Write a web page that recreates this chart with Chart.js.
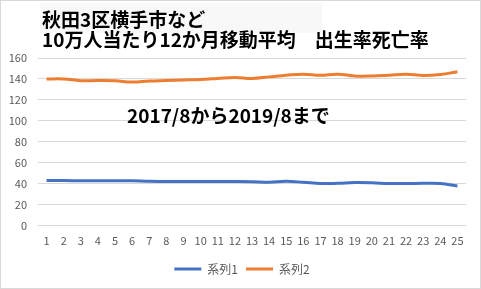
<!DOCTYPE html>
<html>
<head>
<meta charset="utf-8">
<script src="https://cdn.jsdelivr.net/npm/chart.js@4.4.0/dist/chart.umd.min.js"></script>
<style>
  html, body { margin: 0; padding: 0; background: #fff; }
</style>
</head>
<body>
<canvas id="grafico" width="481" height="289"></canvas>
<script>
// 秋田3区横手市など 出生率・死亡率（10万人当たり12か月移動平均）
const labels = ['1','2','3','4','5','6','7','8','9','10','11','12','13','14','15','16','17','18','19','20','21','22','23','24','25'];
const series1 = [43.1, 43.1, 43.0, 43.0, 43.0, 43.0, 42.4, 42.3, 42.3, 42.3, 42.3, 42.3, 42.1, 41.5, 42.4, 41.5, 40.3, 40.5, 41.2, 41.0, 40.3, 40.3, 40.5, 40.3, 38.0];
const series2 = [140.0, 140.0, 138.4, 138.5, 138.2, 137.0, 138.0, 138.5, 139.0, 139.5, 140.5, 141.5, 140.5, 142.0, 143.6, 144.6, 143.6, 144.6, 142.8, 142.8, 143.6, 144.6, 143.4, 144.3, 146.8];
const yTicks = [0, 20, 40, 60, 80, 100, 120, 140, 160];
const titleLines = ['秋田3区横手市など', '10万人当たり12か月移動平均　出生率死亡率'];
const note = '2017/8から2019/8まで';

const jp = '"Noto Sans CJK JP", "Noto Sans", sans-serif';

// タイトル・注記・枠線を描く
const textPlugin = {
  id: 'texts',
  afterLayout(chart) {
    // 凡例を少し右へ
    chart.legend.left += 5;
    chart.legend.right += 5;
  },
  beforeDraw(chart) {
    const c = chart.ctx;
    c.save();
    c.fillStyle = '#f8f8f8';
    c.fillRect(40, 3, 282, 30);
    c.restore();
  },
  afterDraw(chart) {
    const c = chart.ctx;
    const xs = chart.scales.x, ys = chart.scales.y;
    c.save();
    c.fillStyle = '#000';
    c.font = 'bold 19px ' + jp;
    c.textBaseline = 'middle';
    c.textAlign = 'left';
    c.fillText(titleLines[0], 42, 20);
    c.fillText(titleLines[1], 42, 40);
    c.fillText(note, xs.getPixelForValue(4.7), ys.getPixelForValue(105));
    c.strokeStyle = '#d9d9d9';
    c.lineWidth = 1;
    c.strokeRect(0.5, 0.5, chart.width - 1, chart.height - 1);
    c.restore();
  }
};

new Chart(document.getElementById('grafico'), {
  type: 'line',
  data: {
    labels: labels,
    datasets: [
      {
        label: '系列1',
        data: series1,
        borderColor: '#4472C4',
        backgroundColor: '#4472C4',
        borderWidth: 3,
        pointRadius: 0,
        tension: 0.4
      }, {
        label: '系列2',
        data: series2,
        borderColor: '#ED7D31',
        backgroundColor: '#ED7D31',
        borderWidth: 3,
        pointRadius: 0,
        tension: 0.4
      }
    ]
  },
  options: {
    responsive: false,
    animation: false,
    layout: { padding: { left: 8, right: 15, top: 58, bottom: 4 } },
    scales: {
      x: {
        offset: true,
        grid: { display: false, drawTicks: false },
        border: { display: false },
        ticks: { color: '#595959', font: { family: jp, size: 11 }, padding: 8, maxRotation: 0, autoSkip: false }
      },
      y: {
        min: 0,
        max: 160,
        afterBuildTicks(scale) { scale.ticks = yTicks.map(v => ({ value: v })); },
        afterFit(scale) { scale.width = 30; },
        grid: { color: '#d9d9d9', drawTicks: false },
        border: { display: false },
        ticks: { color: '#595959', font: { family: jp, size: 11 }, padding: 11 }
      }
    },
    plugins: {
      legend: {
        position: 'bottom',
        labels: {
          color: '#595959',
          font: { family: jp, size: 12 },
          boxWidth: 27,
          boxHeight: 3,
          padding: 8,
          generateLabels(chart) {
            return Chart.defaults.plugins.legend.labels.generateLabels(chart).map(l => {
              l.lineWidth = 0;
              return l;
            });
          }
        }
      },
      tooltip: { enabled: false }
    }
  },
  plugins: [textPlugin]
});
</script>
</body>
</html>
